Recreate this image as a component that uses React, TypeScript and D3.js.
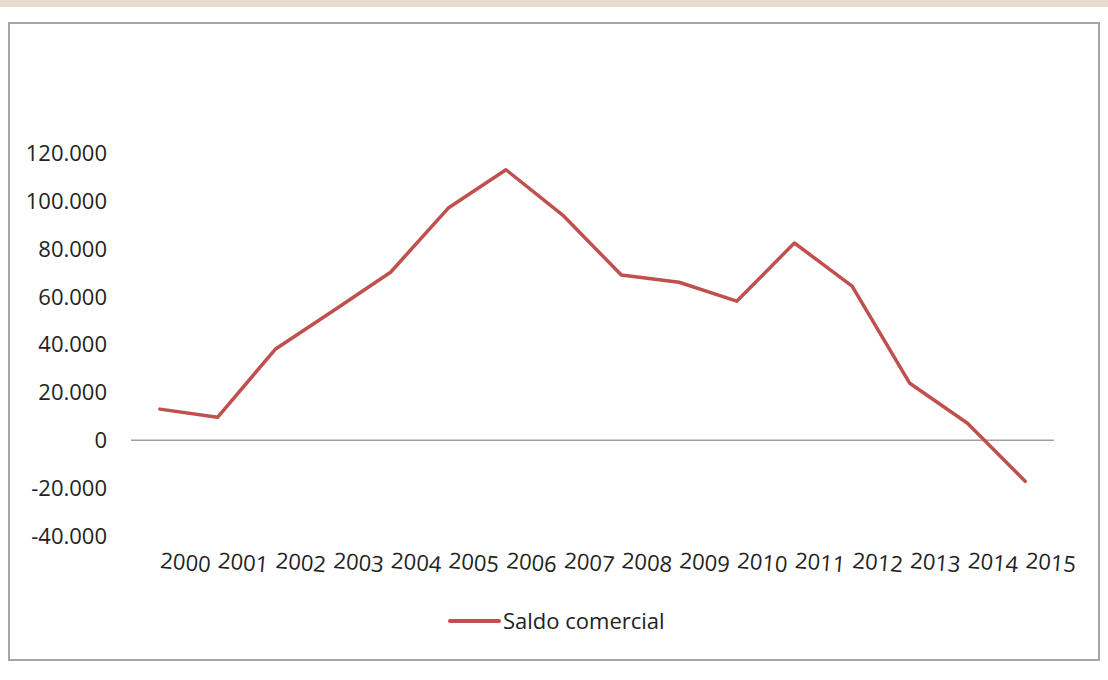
import React, { useEffect, useRef } from 'react';
import * as d3 from 'd3';

const years = ['2000', '2001', '2002', '2003', '2004', '2005', '2006', '2007',
  '2008', '2009', '2010', '2011', '2012', '2013', '2014', '2015'];
const saldo = [13000, 9600, 38000, 54000, 70200, 97000, 113000, 93700,
  69000, 66000, 58100, 82400, 64400, 23800, 7100, -17100];
const yTicks = [-40000, -20000, 0, 20000, 40000, 60000, 80000, 100000, 120000];
const seriesName = 'Saldo comercial';

// formato con punto de miles y guion normal
const fmt = (v: number) =>
  v === 0 ? '0' : d3.format(',')(v).replace(/,/g, '.').replace('\u2212', '-');

const App = () => {
  const ref = useRef<SVGSVGElement>(null);

  useEffect(() => {
    const svg = d3.select(ref.current);
    svg.selectAll('*').remove();
    const font = '"Open Sans", sans-serif';
    const color = '#c0504d';

    // fondo texturado arriba
    svg.append('rect').attr('x', 0).attr('y', 0).attr('width', 1108).attr('height', 680).attr('fill', '#fff');
    svg.append('rect').attr('x', 0).attr('y', 0).attr('width', 1108).attr('height', 7).attr('fill', '#e6dccd');

    // marco del grafico
    svg.append('rect')
      .attr('x', 9).attr('y', 23).attr('width', 1090).attr('height', 637)
      .attr('fill', '#fff').attr('stroke', '#a6a6a6').attr('stroke-width', 2);

    const x = d3.scaleBand().domain(years).range([131, 1054]);
    const y = d3.scaleLinear().domain([-40000, 120000]).range([536, 153]);

    const g = svg.append('g');

    // eje y
    g.selectAll('.ytick')
      .data(yTicks)
      .enter()
      .append('text')
      .attr('x', 107)
      .attr('y', d => y(d))
      .attr('dy', '0.36em')
      .attr('text-anchor', 'end')
      .attr('font-family', font)
      .attr('font-size', 22)
      .attr('fill', '#222')
      .text(d => fmt(d));

    // linea de cero
    g.append('line')
      .attr('x1', 131).attr('x2', 1054)
      .attr('y1', y(0)).attr('y2', y(0))
      .attr('stroke', '#a0a0a0').attr('stroke-width', 1.5);

    // etiquetas x (un poco giradas)
    g.selectAll('.xlab')
      .data(years)
      .enter()
      .append('text')
      .attr('transform', d => `translate(${(x(d) as number) + x.bandwidth() / 2}, 568) rotate(5)`)
      .attr('font-family', font)
      .attr('font-size', 22)
      .attr('fill', '#222')
      .text(d => d);

    // linea
    const line = d3.line<number>()
      .x((_, i) => (x(years[i]) as number) + x.bandwidth() / 2)
      .y(d => y(d));

    g.append('path')
      .datum(saldo)
      .attr('d', line)
      .attr('fill', 'none')
      .attr('stroke', color)
      .attr('stroke-width', 3.5)
      .attr('stroke-linejoin', 'round')
      .attr('stroke-linecap', 'round');

    // leyenda
    g.append('line')
      .attr('x1', 450).attr('x2', 499).attr('y1', 621).attr('y2', 621)
      .attr('stroke', color).attr('stroke-width', 4).attr('stroke-linecap', 'round');
    g.append('text')
      .attr('x', 503).attr('y', 621).attr('dy', '0.36em')
      .attr('font-family', font).attr('font-size', 22).attr('fill', '#222')
      .text(seriesName);
  }, []);

  return (
    <svg ref={ref} width={1108} height={680}
      style={{ position: 'absolute', left: 0, top: 0 }} />
  );
};

export default App;
